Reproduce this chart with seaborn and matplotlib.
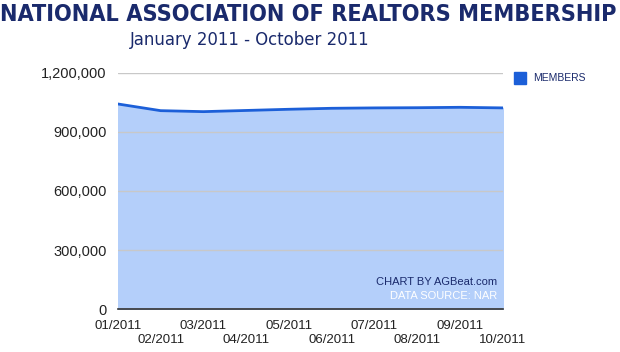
import matplotlib
matplotlib.use('Agg')
import matplotlib.pyplot as plt
import seaborn as sns
import pandas as pd

# NAR membership, Jan-Oct 2011
months = ['01/2011', '02/2011', '03/2011', '04/2011', '05/2011',
          '06/2011', '07/2011', '08/2011', '09/2011', '10/2011']
members = [1042000, 1008000, 1003000, 1009000, 1015000,
           1020000, 1022000, 1023000, 1025000, 1022000]
yticks = [0, 300000, 600000, 900000, 1200000]

df = pd.DataFrame({'month': range(len(months)), 'members': members})

sns.set_style('white')
plt.rcParams['font.family'] = ['Liberation Sans', 'DejaVu Sans']

fig = plt.figure(figsize=(6.2, 3.52), dpi=100)
ax = fig.add_axes([0.19, 0.122, 0.621, 0.671])

ax.fill_between(df['month'], df['members'], color='#b4cffa', zorder=1)
sns.lineplot(data=df, x='month', y='members', color='#1c5fd8', linewidth=2,
             ax=ax, zorder=3)

ax.set_xlim(0, len(months) - 1)
ax.set_ylim(0, 1200000)
ax.set_yticks(yticks)
ax.set_yticklabels([f'{v:,}' for v in yticks], fontsize=10.5, color='#222222')
ax.grid(axis='y', color='#c8c8c8', linewidth=1, zorder=2)
ax.set_axisbelow(False)

ax.set_xticks(range(len(months)))
ax.set_xticklabels([m if i % 2 == 0 else '\n' + m for i, m in enumerate(months)],
                   fontsize=9.5, color='#222222', linespacing=1.25)
ax.tick_params(axis='both', length=0)
ax.tick_params(axis='x', pad=8)
ax.tick_params(axis='y', pad=8)
ax.set_xlabel('')
ax.set_ylabel('')
for s in ['top', 'right', 'left']:
    ax.spines[s].set_visible(False)
ax.spines['bottom'].set_color('#333333')
ax.spines['bottom'].set_linewidth(1.2)
ax.spines['bottom'].set_zorder(4)

# legend on the right
fig.patches.append(plt.Rectangle((0.829, 0.762), 0.019, 0.034, color='#1c5fd8',
                                 transform=fig.transFigure, figure=fig))
fig.text(0.860, 0.779, 'MEMBERS', fontsize=7.5, color='#1a2a6c', va='center')

# credits
ax.text(0.985, 0.115, 'CHART BY AGBeat.com', transform=ax.transAxes,
        ha='right', va='center', fontsize=8, color='#1a2a6c', zorder=5)
ax.text(0.985, 0.055, 'DATA SOURCE: NAR', transform=ax.transAxes,
        ha='right', va='center', fontsize=8, color='white', zorder=5)

fig.text(0.497, 0.958, 'NATIONAL ASSOCIATION OF REALTORS MEMBERSHIP',
         ha='center', va='center', fontsize=16.8, fontweight='heavy', color='#1a2a6c',
         family='DejaVu Sans', stretch='condensed')
fig.text(0.402, 0.886, 'January 2011 - October 2011', ha='center', va='center',
         fontsize=13.2, color='#1a2a6c', family='DejaVu Sans', stretch='condensed')

fig.savefig('out.png', dpi=100)
